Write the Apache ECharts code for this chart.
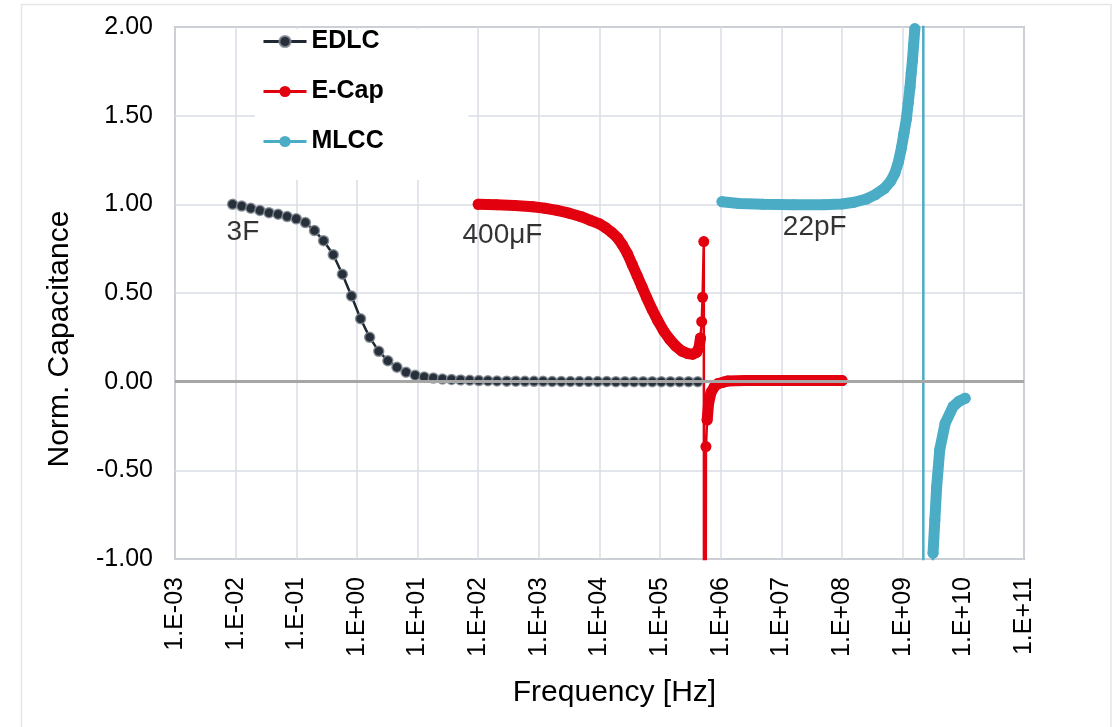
<!DOCTYPE html>
<html>
<head>
<meta charset="utf-8">
<script src="https://cdn.jsdelivr.net/npm/echarts@6/dist/echarts.min.js"></script>
<style>
html,body{margin:0;padding:0;background:#fff;}
#chart{width:1120px;height:727px;}
</style>
</head>
<body>
<div id="chart"></div>
<script>
// x values are log10(frequency / Hz)
const edlcLogF = [-2.05,-1.90,-1.75,-1.60,-1.45,-1.30,-1.15,-1.00,-0.85,-0.70,-0.55,-0.39,-0.24,-0.09,
  0.06,0.21,0.36,0.51,0.66,0.81,0.96,1.11,1.26,1.41,1.56,1.71,1.86,2.01,2.16,2.31,
  2.47,2.62,2.77,2.92,3.07,3.22,3.37,3.52,3.67,3.82,3.97,4.12,4.27,4.42,4.57,4.72,4.87,5.02,5.17,5.32,5.47,5.62];
const edlcC = [1.000,0.990,0.978,0.965,0.953,0.944,0.931,0.918,0.897,0.852,0.795,0.716,0.606,0.483,
  0.355,0.250,0.171,0.118,0.081,0.053,0.036,0.026,0.020,0.015,0.012,0.010,0.008,0.006,0.005,0.004,
  0.003,0.003,0.002,0.002,0.002,0.001,0.001,0.001,0.001,0.001,0.001,0.001,0,0,0,0,0,0,0,0,0,0];

const ecapLogF = [2.00,2.30,2.60,2.90,3.10,3.30,3.50,3.70,3.85,4.00,4.10,4.20,4.30,4.38,4.46,4.54,4.62,4.70,4.78,4.87,
  4.96,5.06,5.16,5.26,5.36,5.46,5.54,5.60,5.64,5.665,5.685,5.70,5.72,5.73,5.755,5.775,5.80,5.84,5.90,5.95,
  6.05,6.12,6.40,7.00,7.50,8.00];
const ecapC = [1.000,0.998,0.994,0.986,0.978,0.966,0.950,0.930,0.910,0.890,0.868,0.842,0.810,0.770,0.722,0.660,0.598,0.535,0.472,0.405,
  0.345,0.285,0.238,0.200,0.172,0.158,0.155,0.165,0.190,0.246,0.338,0.476,0.790,-8,-0.366,-0.216,-0.120,-0.060,-0.025,-0.012,
  -0.002,0.004,0.006,0.006,0.006,0.006];
const ecapBandRanges = [[0,29],[35,45]];

const mlccLogF = [6.02,6.30,6.70,7.20,7.70,8.00,8.20,8.40,8.55,8.70,8.80,8.87,8.93,8.98,9.02,9.06,9.09,9.12,9.14,9.16,9.18,9.20,
  9.22,9.339,9.341,9.45,9.50,9.53,9.56,9.61,9.70,9.83,9.93,10.03];
const mlccC = [1.015,1.005,1.000,0.998,0.998,1.002,1.012,1.030,1.055,1.090,1.130,1.175,1.240,1.320,1.400,1.480,1.570,1.660,1.740,1.810,1.900,1.990,
  2.300,40,-40,-2.0,-0.967,-0.780,-0.592,-0.385,-0.235,-0.141,-0.110,-0.094];
const mlccBandRanges = [[0,21],[26,33]];

const noteTexts = ['3F','400μF','22pF'];
const noteLogF = [-1.88, 2.40, 7.55];
const noteC = [0.840, 0.825, 0.868];

const xTicksMin = -3, xTicksMax = 11;
const yMin = -1, yMax = 2, yStep = 0.5;

const FONT = "'Liberation Sans', Arial, sans-serif";
const colEDLC = '#27303a', colECap = '#e3000f', colMLCC = '#4bacc6';

function pairs(xs, ys){ return xs.map((x,i)=>[x, ys[i]]); }
function bandData(xs, ys, ranges){
  const out = [];
  ranges.forEach((r, j) => {
    if (j > 0) out.push([null, null]);
    for (let i = r[0]; i <= r[1]; i++) out.push([xs[i], ys[i]]);
  });
  return out;
}
function fmtX(v){
  const e = Math.round(v);
  const s = e < 0 ? '-' : '+';
  const a = Math.abs(e);
  return '1.E' + s + (a < 10 ? '0' + a : '' + a);
}

const chart = echarts.init(document.getElementById('chart'), null, {renderer:'canvas'});
const option = {
  animation: false,
  backgroundColor: '#fff',
  textStyle: {fontFamily: FONT},
  graphic: [{
    type: 'rect', silent: true, z: -10,
    shape: {x: 21.5, y: 4.5, width: 1089.5, height: 740},
    style: {fill: 'none', stroke: '#e6e6e6', lineWidth: 1.5}
  }],
  grid: {left: 175, top: 27, right: 96, bottom: 168, show: true, borderColor: '#8c8c8c', borderWidth: 1.5, backgroundColor: 'transparent'},
  legend: {
    data: ['EDLC','E-Cap','MLCC'],
    orient: 'vertical', left: 255, top: 29,
    itemWidth: 43, itemHeight: 14, itemGap: 25,
    padding: [0, 85, 26, 7],
    backgroundColor: '#fff',
    selectedMode: false,
    lineStyle: {width: 3},
    textStyle: {fontSize: 25, fontWeight: 'bold', color: '#000', fontFamily: FONT}
  },
  xAxis: {
    type: 'value', min: xTicksMin, max: xTicksMax, interval: 1,
    name: 'Frequency [Hz]', nameLocation: 'middle', nameGap: 119,
    nameTextStyle: {fontSize: 30, color: '#000', fontFamily: FONT, padding: [0, 0, 0, 30]},
    axisLine: {show: false, onZero: false},
    axisTick: {show: false},
    splitLine: {show: true, lineStyle: {color: '#d9dee6', width: 1.5}},
    axisLabel: {rotate: 90, margin: 18, fontSize: 25, color: '#000', fontFamily: FONT, formatter: fmtX}
  },
  yAxis: {
    type: 'value', min: yMin, max: yMax, interval: yStep,
    name: 'Norm. Capacitance', nameLocation: 'middle', nameGap: 100, nameRotate: 90,
    nameTextStyle: {fontSize: 30, color: '#000', fontFamily: FONT, padding: [0, 92, 0, 0]},
    axisLine: {show: false, onZero: false},
    axisTick: {show: false},
    splitLine: {show: true, lineStyle: {color: '#d9dee6', width: 1.5}},
    axisLabel: {margin: 22, fontSize: 25, color: '#000', fontFamily: FONT, formatter: v => v.toFixed(2)}
  },
  series: [
    {
      name: 'E-Cap band', type: 'line', data: bandData(ecapLogF, ecapC, ecapBandRanges),
      showSymbol: false, connectNulls: false, silent: true, z: 2,
      lineStyle: {color: colECap, width: 11, cap: 'round', join: 'round'}, itemStyle: {color: colECap}
    },
    {
      name: 'MLCC band', type: 'line', data: bandData(mlccLogF, mlccC, mlccBandRanges),
      showSymbol: false, connectNulls: false, silent: true, z: 2,
      lineStyle: {color: colMLCC, width: 11, cap: 'round', join: 'round'}, itemStyle: {color: colMLCC}
    },
    {
      name: 'EDLC', type: 'line', data: pairs(edlcLogF, edlcC), z: 3,
      symbol: 'circle', symbolSize: 10, showAllSymbol: true,
      lineStyle: {color: '#1f2833', width: 2.5},
      itemStyle: {color: colEDLC, borderColor: 'rgba(130,138,146,0.85)', borderWidth: 1.5}
    },
    {
      name: 'E-Cap', type: 'line', data: pairs(ecapLogF, ecapC), z: 3,
      symbol: 'circle', symbolSize: 11, showAllSymbol: true,
      lineStyle: {color: colECap, width: 2.5},
      itemStyle: {color: colECap}
    },
    {
      name: 'MLCC', type: 'line', data: pairs(mlccLogF, mlccC), z: 3,
      symbol: 'circle', symbolSize: 11, showAllSymbol: true,
      lineStyle: {color: colMLCC, width: 2.5},
      itemStyle: {color: colMLCC}
    },
    {
      name: 'zero', type: 'line', data: [], z: 6, silent: true,
      markLine: {
        silent: true, symbol: ['none','none'], label: {show: false},
        lineStyle: {color: '#a6a6a6', width: 3, type: 'solid'},
        data: [{yAxis: 0}]
      }
    },
    {
      name: 'notes', type: 'scatter', silent: true, z: 7,
      symbolSize: 1, itemStyle: {color: 'rgba(0,0,0,0)'},
      data: noteTexts.map((t,i)=>({name: t, value: [noteLogF[i], noteC[i]]})),
      label: {show: true, position: 'inside', formatter: '{b}', fontSize: 28, color: '#000', fontFamily: FONT}
    }
  ]
};
chart.setOption(option);
</script>
</body>
</html>
